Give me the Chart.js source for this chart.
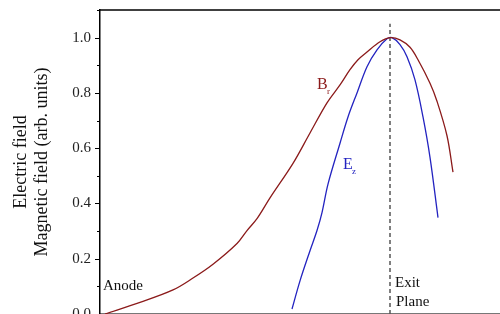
<!DOCTYPE html>
<html>
<head>
<meta charset="utf-8">
<script src="https://cdn.jsdelivr.net/npm/chart.js@4/dist/chart.umd.min.js"></script>
<style>
  html, body { margin: 0; padding: 0; background: #fff; overflow: hidden; }
  canvas { display: block; }
</style>
</head>
<body>
<canvas id="fieldChart" width="500" height="330"></canvas>
<script>
// positions along the channel (arb. units), exit plane at 290
const brX = [5, 40, 73, 93, 113, 137, 147, 157, 170, 193, 210, 227, 240, 250, 258, 267, 280, 290, 300, 310, 318, 330, 337, 347, 353];
const brY = [0, 0.042, 0.087, 0.13, 0.18, 0.255, 0.302, 0.345, 0.42, 0.545, 0.655, 0.764, 0.829, 0.884, 0.92, 0.948, 0.985, 1.0, 0.992, 0.965, 0.92, 0.835, 0.77, 0.645, 0.513];

const ezX = [192, 200, 210, 217, 222, 228, 240, 248, 257, 267, 277, 287, 292, 300, 307, 315, 323, 330, 338];
const ezY = [0.018, 0.12, 0.229, 0.302, 0.367, 0.47, 0.618, 0.713, 0.8, 0.895, 0.956, 0.996, 1.0, 0.975, 0.931, 0.847, 0.713, 0.567, 0.349];

const exitPlaneX = 290;
const exitPlaneTop = 1.05;

const yTicks = [0, 0.2, 0.4, 0.6, 0.8, 1.0];

const toPoints = (xs, ys) => xs.map((x, i) => ({ x: x, y: ys[i] }));

const serif = '"Liberation Serif", "DejaVu Serif", serif';

// tick marks outside the left axis, the top frame line and text labels
const framePlugin = {
    id: 'frame',
    afterDraw(chart) {
        const ctx = chart.ctx;
        const area = chart.chartArea;
        const xs = chart.scales.x;
        const ys = chart.scales.y;
        ctx.save();
        ctx.strokeStyle = '#000';
        ctx.lineWidth = 1.5;
        ctx.beginPath();
        ctx.moveTo(area.left, area.top);
        ctx.lineTo(area.right, area.top);
        ctx.stroke();
        ctx.lineWidth = 1;
        for (let i = 0; i <= 11; i++) {
            const py = Math.round(ys.getPixelForValue(i / 10)) + 0.5;
            const len = i % 2 === 0 ? 5 : 3;
            ctx.beginPath();
            ctx.moveTo(area.left - len, py);
            ctx.lineTo(area.left, py);
            ctx.stroke();
        }

        const text = (str, x, y, size, color) => {
            ctx.font = size + 'px ' + serif;
            ctx.fillStyle = color;
            ctx.textBaseline = 'alphabetic';
            ctx.textAlign = 'left';
            ctx.fillText(str, xs.getPixelForValue(x), ys.getPixelForValue(y));
        };
        text('B', 217, 0.815, 16, '#8b1a1a');
        text('r', 227, 0.797, 9, '#8b1a1a');
        text('E', 243, 0.525, 16, '#2323c0');
        text('z', 252, 0.507, 9, '#2323c0');
        text('Anode', 3, 0.087, 15, '#111');
        text('Exit', 295, 0.098, 15, '#111');
        text('Plane', 296, 0.029, 15, '#111');
        ctx.restore();
    }
};

new Chart(document.getElementById('fieldChart'), {
    type: 'line',
    data: {
        datasets: [
            {
                label: 'Br',
                data: toPoints(brX, brY),
                borderColor: '#8b1a1a',
                borderWidth: 1.3,
                pointRadius: 0,
                tension: 0.35
            },
            {
                label: 'Ez',
                data: toPoints(ezX, ezY),
                borderColor: '#2323c0',
                borderWidth: 1.3,
                pointRadius: 0,
                tension: 0.35
            },
            {
                label: 'Exit plane',
                data: [{ x: exitPlaneX, y: 0 }, { x: exitPlaneX, y: exitPlaneTop }],
                borderColor: '#555',
                borderWidth: 1.5,
                borderDash: [4, 3],
                pointRadius: 0
            }
        ]
    },
    options: {
        responsive: false,
        animation: false,
        layout: { padding: { top: 10, right: 0, bottom: 8, left: 0 } },
        plugins: {
            legend: { display: false },
            tooltip: { enabled: false }
        },
        scales: {
            x: {
                type: 'linear',
                min: 0,
                max: 400,
                ticks: { display: false },
                grid: { display: false },
                border: { display: true, color: '#777', width: 2 }
            },
            y: {
                min: 0,
                max: 1.1,
                afterFit: scale => {
                    scale.width = 100;
                    scale.paddingTop = 0;
                    scale.paddingBottom = 0;
                },
                afterBuildTicks: scale => { scale.ticks = yTicks.map(v => ({ value: v })); },
                ticks: {
                    padding: 9,
                    color: '#222',
                    font: { family: serif, size: 15 },
                    callback: value => value.toFixed(1)
                },
                grid: { display: false, drawTicks: false },
                border: { display: true, color: '#000', width: 1.5 },
                title: {
                    display: true,
                    text: ['Electric field', 'Magnetic field (arb. units)'],
                    color: '#111',
                    font: { family: serif, size: 18, lineHeight: 1.2 },
                    padding: { top: 10, bottom: 0 }
                }
            }
        }
    },
    plugins: [framePlugin]
});
</script>
</body>
</html>
